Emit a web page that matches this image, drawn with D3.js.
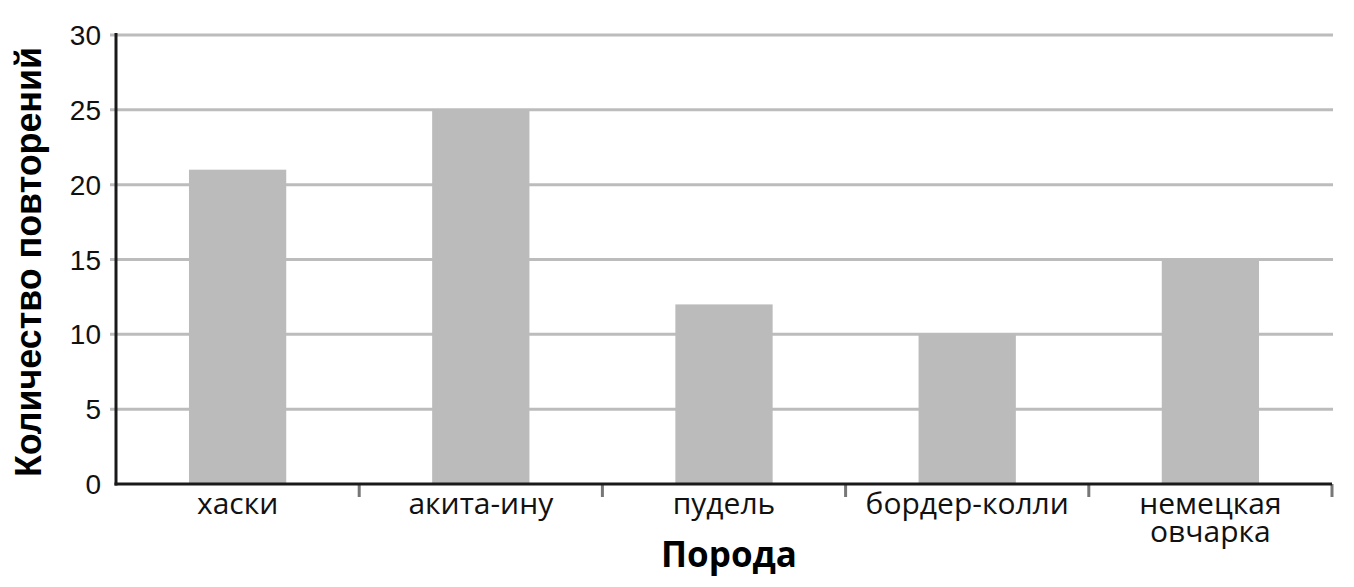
<!DOCTYPE html>
<html><head><meta charset="utf-8">
<script src="https://cdn.jsdelivr.net/npm/d3@7"></script>
<style>html,body{margin:0;padding:0;background:#fff;}svg{display:block;}</style>
</head><body>
<svg id="chart" width="1354" height="587"></svg>
<script>
const categories = [["хаски"], ["акита-ину"], ["пудель"], ["бордер-колли"], ["немецкая", "овчарка"]];
const values = [21, 25, 12, 10, 15];
const yTicks = [0, 5, 10, 15, 20, 25, 30];
const xTitle = "Порода";
const yTitle = "Количество повторений";

(function () {
const svg = d3.select("#chart");
const mLeft = 116, mRight = 1332, mTop = 35, mBottom = 484;
const keys = categories.map(c => c.join(" "));
const x = d3.scaleBand().domain(keys).range([mLeft, mRight]).paddingInner(0.6).paddingOuter(0.3);
const y = d3.scaleLinear().domain([0, 30]).range([mBottom, mTop]);

// gridlines
svg.append("g").selectAll("line").data(yTicks.filter(d => d > 0)).join("line")
  .attr("x1", mLeft - 6).attr("x2", mRight + 1)
  .attr("y1", d => y(d)).attr("y2", d => y(d))
  .attr("stroke", "#bcbcbc").attr("stroke-width", 3);

// bars
svg.append("g").selectAll("rect").data(values).join("rect")
  .attr("x", (d, i) => x(keys[i])).attr("width", x.bandwidth())
  .attr("y", d => y(d)).attr("height", d => mBottom - y(d))
  .attr("fill", "#bbbbbb");

// y tick labels
svg.append("g").selectAll("text").data(yTicks).join("text")
  .attr("x", 101).attr("y", d => y(d)).attr("dy", "0.36em")
  .attr("text-anchor", "end")
  .attr("font-family", "Liberation Sans, Arial, sans-serif").attr("font-size", 28)
  .attr("fill", "#111").text(d => d);

// x boundary ticks
const step = x.step();
svg.append("g").selectAll("line").data(keys).join("line")
  .attr("x1", (d, i) => mLeft + step * (i + 1)).attr("x2", (d, i) => mLeft + step * (i + 1))
  .attr("y1", mBottom).attr("y2", mBottom + 13)
  .attr("stroke", "#777").attr("stroke-width", 3);

// axes lines
svg.append("line").attr("x1", mLeft).attr("x2", mLeft).attr("y1", mTop - 2).attr("y2", mBottom + 1.5)
  .attr("stroke", "#1a1a1a").attr("stroke-width", 3);
svg.append("line").attr("x1", mLeft - 1.5).attr("x2", mRight).attr("y1", mBottom).attr("y2", mBottom)
  .attr("stroke", "#1a1a1a").attr("stroke-width", 3);

// x labels
const xl = svg.append("g").selectAll("text").data(categories).join("text")
  .attr("font-family", "Open Sans, sans-serif").attr("font-size", 30)
  .attr("fill", "#111").attr("text-anchor", "middle")
  .attr("transform", (d, i) => `translate(${x(keys[i]) + x.bandwidth() / 2},514)`);
xl.selectAll("tspan").data(d => d).join("tspan")
  .attr("x", 0).attr("y", (d, i) => i * 28).text(d => d);

// titles
svg.append("text").attr("x", 729).attr("y", 567).attr("text-anchor", "middle")
  .attr("font-family", "Open Sans, sans-serif").attr("font-weight", "bold").attr("font-size", 35)
  .attr("fill", "#000").text(xTitle);
svg.append("text").attr("transform", "translate(41,262) rotate(-90)").attr("text-anchor", "middle")
  .attr("font-family", "Liberation Sans, Arial, sans-serif").attr("font-weight", "bold").attr("font-size", 37)
  .attr("textLength", 430).attr("lengthAdjust", "spacingAndGlyphs")
  .attr("fill", "#000").text(yTitle);
})();
</script>
</body></html>
